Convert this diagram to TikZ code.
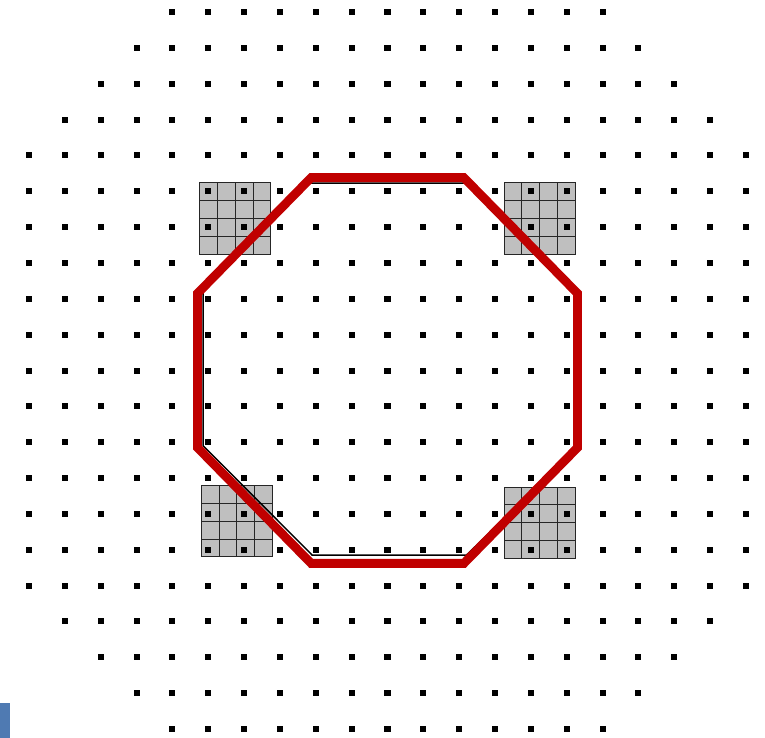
\documentclass[tikz,border=0pt]{standalone}
\usepackage{xcolor}
\usepackage{tikz}
\definecolor{octred}{RGB}{192,0,0}
\definecolor{cellgray}{RGB}{191,191,191}
\definecolor{tabblue}{RGB}{79,122,178}

\begin{document}
\begin{tikzpicture}[x=0.5cm, y=0.5cm,
      dot/.style={fill=black},
      cellfill/.style={fill=cellgray},
      cellline/.style={draw=black!85, line width=0.4pt, step=0.5},
      thinoct/.style={draw=black, line width=0.6pt},
      octagon/.style={draw=octred, line width=3.5pt, line join=miter}]
    \useasboundingbox (-0.809,0.335) rectangle (20.53,-20.25);
    % gray cell patches
    \foreach \gx/\gy in {4.75/-6.75, 13.25/-6.75, 4.8/-15.2, 13.25/-15.25} {
      \fill[cellfill] (\gx,\gy) rectangle ++(2,2);
      \draw[cellline, shift={(\gx,\gy)}] (0,0) grid (2,2);
    }
    % dot lattice, rows trimmed at the corners
    \foreach \j/\a in {0/4, 1/3, 2/2, 3/1, 4/0, 5/0, 6/0, 7/0, 8/0, 9/0, 10/0,
                       11/0, 12/0, 13/0, 14/0, 15/0, 16/0, 17/1, 18/2, 19/3, 20/4} {
      \pgfmathtruncatemacro{\b}{20-\a}
      \foreach \i in {\a,...,\b}
        \fill[dot] (\i-0.084,-\j-0.084) rectangle ++(0.168,0.168);
    }
    \draw[thinoct] (7.75,-4.77) -- (12.2,-4.77) -- (15.25,-7.8) -- (15.25,-12.2)
      -- (12.2,-15.15) -- (7.9,-15.15) -- (4.86,-12.1) -- (4.86,-7.75) -- cycle;
    \draw[octagon] (7.87,-4.62) -- (12.13,-4.62) -- (15.3,-7.85) -- (15.3,-12.15)
      -- (12.13,-15.38) -- (7.87,-15.38) -- (4.7,-12.15) -- (4.7,-7.85) -- cycle;
    \fill[tabblue] (-0.809,-19.275) rectangle (-0.53,-20.25);
  \end{tikzpicture}
\end{document}
